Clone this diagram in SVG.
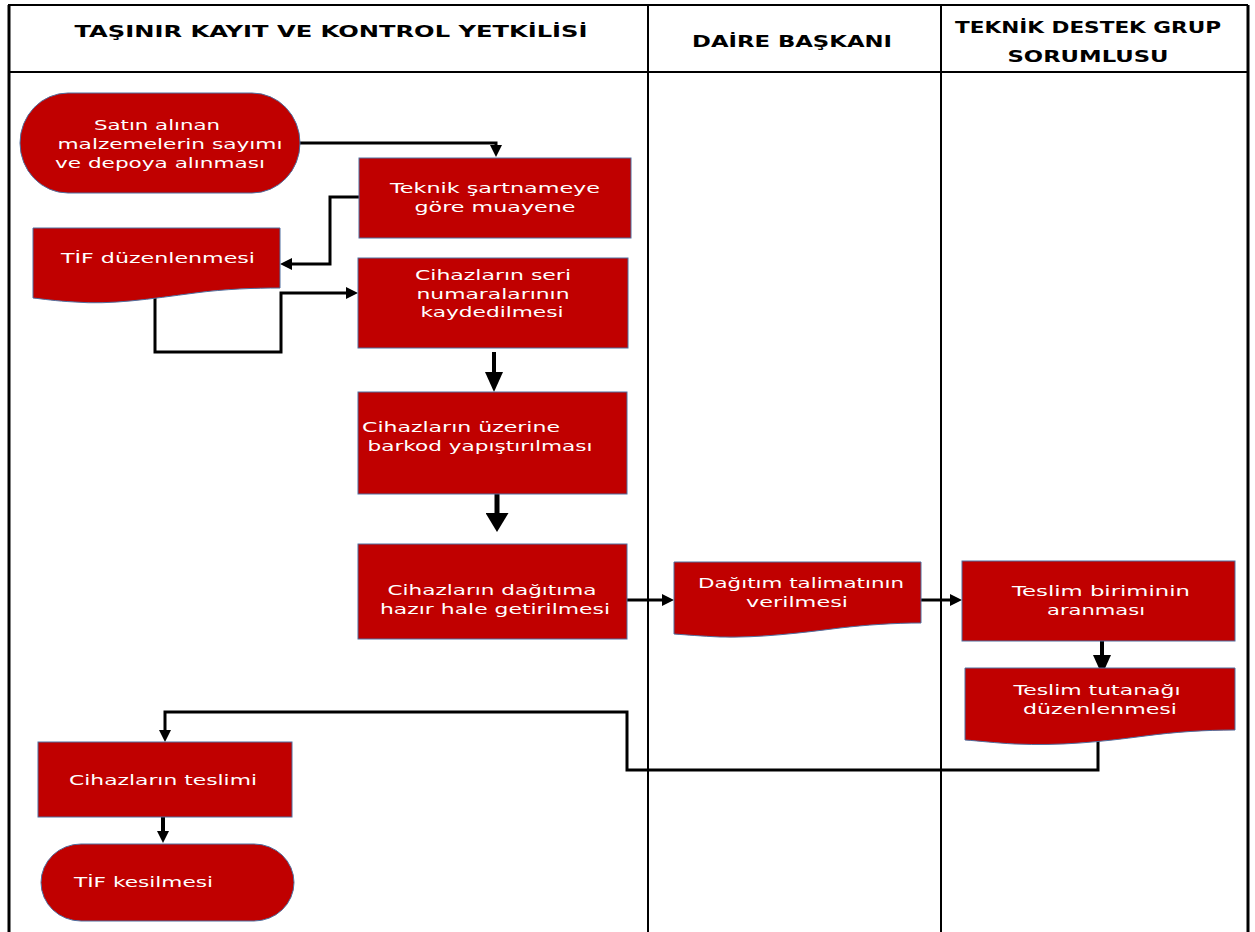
<svg xmlns="http://www.w3.org/2000/svg" width="1255" height="932" viewBox="0 0 1255 932">
<style>
.lane{fill:none;stroke:#000;stroke-width:2}
.hdr{font-family:"DejaVu Sans","Liberation Sans",sans-serif;font-weight:bold;font-size:16px;fill:#000;text-anchor:middle}
.box{fill:#C00000;stroke:#4F6F9F;stroke-width:1}
.t{font-family:"DejaVu Sans","Liberation Sans",sans-serif;font-size:14px;fill:#fff;text-anchor:middle}
.tl{font-family:"DejaVu Sans","Liberation Sans",sans-serif;font-size:14px;fill:#fff;text-anchor:start}
.c{fill:none;stroke:#000;stroke-width:3}
</style>
<defs>
<marker id="ah" markerUnits="userSpaceOnUse" viewBox="0 0 12 12" markerWidth="12" markerHeight="12" refX="0" refY="6" orient="auto"><path d="M0,0 L12,6 L0,12 z" fill="#000"/></marker>
<marker id="ah2" markerUnits="userSpaceOnUse" viewBox="0 0 20 18" markerWidth="20" markerHeight="18" refX="0" refY="9" orient="auto"><path d="M0,0 L20,9 L0,18 z" fill="#000"/></marker>
<marker id="ah3" markerUnits="userSpaceOnUse" viewBox="0 0 19 23" markerWidth="19" markerHeight="23" refX="0" refY="11.5" orient="auto"><path d="M0,0 L19,11.5 L0,23 z" fill="#000"/></marker>
</defs>
<rect width="1255" height="932" fill="#fff"/>
<g id="lanes">
<path class="lane" d="M8,5 H1248"/>
<path d="M9,5 V932 M1248,5 V932" stroke="#000" stroke-width="3" fill="none"/>
<path class="lane" d="M8,72 H1248 M648,5 V932 M941,5 V932"/>
<text class="hdr" x="331" y="37" textLength="513" lengthAdjust="spacingAndGlyphs">TAŞINIR KAYIT VE KONTROL YETKİLİSİ</text>
<text class="hdr" x="792" y="47" textLength="200" lengthAdjust="spacingAndGlyphs">DAİRE BAŞKANI</text>
<text class="hdr" x="1088" y="33" textLength="266" lengthAdjust="spacingAndGlyphs">TEKNİK DESTEK GRUP</text>
<text class="hdr" x="1088" y="62" textLength="161" lengthAdjust="spacingAndGlyphs">SORUMLUSU</text>
</g>
<g id="connectors">
<path class="c" d="M300,143 H496 V145" marker-end="url(#ah)"/>
<path class="c" d="M359,197 H330 V264 H292" marker-end="url(#ah)"/>
<path class="c" d="M155,298 V352 H281 V293 H346" marker-end="url(#ah)"/>
<path class="c" style="stroke-width:4" d="M494,352 V372" marker-end="url(#ah2)"/>
<path class="c" style="stroke-width:5" d="M497,494 V513" marker-end="url(#ah3)"/>
<path class="c" d="M627,600 H662" marker-end="url(#ah)"/>
<path class="c" d="M921,600 H950" marker-end="url(#ah)"/>
<path class="c" style="stroke-width:4" d="M1102,641 V655" marker-end="url(#ah2)"/>
<path class="c" d="M1098,740 V770 H627 V712 H165 V730" marker-end="url(#ah)"/>
<path class="c" style="stroke-width:4" d="M163,817 V831" marker-end="url(#ah)"/>
</g>
<g id="n1">
<rect class="box" x="20" y="93" width="280" height="100" rx="48" ry="50"/>
<text class="t" x="157" y="130" textLength="126" lengthAdjust="spacingAndGlyphs">Satın alınan</text>
<text class="t" x="170" y="149" textLength="225" lengthAdjust="spacingAndGlyphs">malzemelerin sayımı</text>
<text class="t" x="160" y="168" textLength="210" lengthAdjust="spacingAndGlyphs">ve depoya alınması</text>
</g>
<g id="n2">
<rect class="box" x="359" y="158" width="272" height="80"/>
<text class="t" x="495" y="193" textLength="210" lengthAdjust="spacingAndGlyphs">Teknik şartnameye</text>
<text class="t" x="495" y="212" textLength="161" lengthAdjust="spacingAndGlyphs">göre muayene</text>
</g>
<g id="n3">
<path class="box" d="M33,228 H280 V288 C255,288 225,289 195,293 C150,299 110,305 75,302 C55,301 43,299 33,298 Z"/>
<text class="t" x="158" y="263" textLength="194" lengthAdjust="spacingAndGlyphs">TİF düzenlenmesi</text>
</g>
<g id="n4">
<rect class="box" x="358" y="258" width="270" height="90"/>
<text class="t" x="493" y="280" textLength="156" lengthAdjust="spacingAndGlyphs">Cihazların seri</text>
<text class="t" x="493" y="299" textLength="153" lengthAdjust="spacingAndGlyphs">numaralarının</text>
<text class="t" x="492" y="317" textLength="143" lengthAdjust="spacingAndGlyphs">kaydedilmesi</text>
</g>
<g id="n5">
<rect class="box" x="358" y="392" width="269" height="102"/>
<text class="t" x="461" y="432" textLength="198" lengthAdjust="spacingAndGlyphs">Cihazların üzerine</text>
<text class="t" x="480" y="451" textLength="225" lengthAdjust="spacingAndGlyphs">barkod yapıştırılması</text>
</g>
<g id="n6">
<rect class="box" x="358" y="544" width="269" height="95"/>
<text class="t" x="492" y="595" textLength="209" lengthAdjust="spacingAndGlyphs">Cihazların dağıtıma</text>
<text class="t" x="495" y="614" textLength="230" lengthAdjust="spacingAndGlyphs">hazır hale getirilmesi</text>
</g>
<g id="n7">
<path class="box" d="M674,562 H921 V623 C895,623 865,625 840,628 C800,633 760,638 720,637 C700,636 688,635 674,634 Z"/>
<text class="t" x="801" y="588" textLength="206" lengthAdjust="spacingAndGlyphs">Dağıtım talimatının</text>
<text class="t" x="797" y="607" textLength="102" lengthAdjust="spacingAndGlyphs">verilmesi</text>
</g>
<g id="n8">
<rect class="box" x="962" y="561" width="273" height="80"/>
<text class="t" x="1101" y="596" textLength="178" lengthAdjust="spacingAndGlyphs">Teslim biriminin</text>
<text class="t" x="1096" y="615" textLength="98" lengthAdjust="spacingAndGlyphs">aranması</text>
</g>
<g id="n9">
<path class="box" d="M965,668 H1235 V730 C1205,730 1175,732 1145,736 C1100,742 1060,746 1015,744 C995,743 980,741 965,740 Z"/>
<text class="t" x="1097" y="695" textLength="167" lengthAdjust="spacingAndGlyphs">Teslim tutanağı</text>
<text class="t" x="1100" y="714" textLength="154" lengthAdjust="spacingAndGlyphs">düzenlenmesi</text>
</g>
<g id="n10">
<rect class="box" x="38" y="742" width="254" height="75"/>
<text class="t" x="163" y="785" textLength="188" lengthAdjust="spacingAndGlyphs">Cihazların teslimi</text>
</g>
<g id="n11">
<rect class="box" x="41" y="844" width="253" height="77" rx="40" ry="38.5"/>
<text class="tl" x="74" y="887" textLength="139" lengthAdjust="spacingAndGlyphs">TİF kesilmesi</text>
</g>
</svg>
